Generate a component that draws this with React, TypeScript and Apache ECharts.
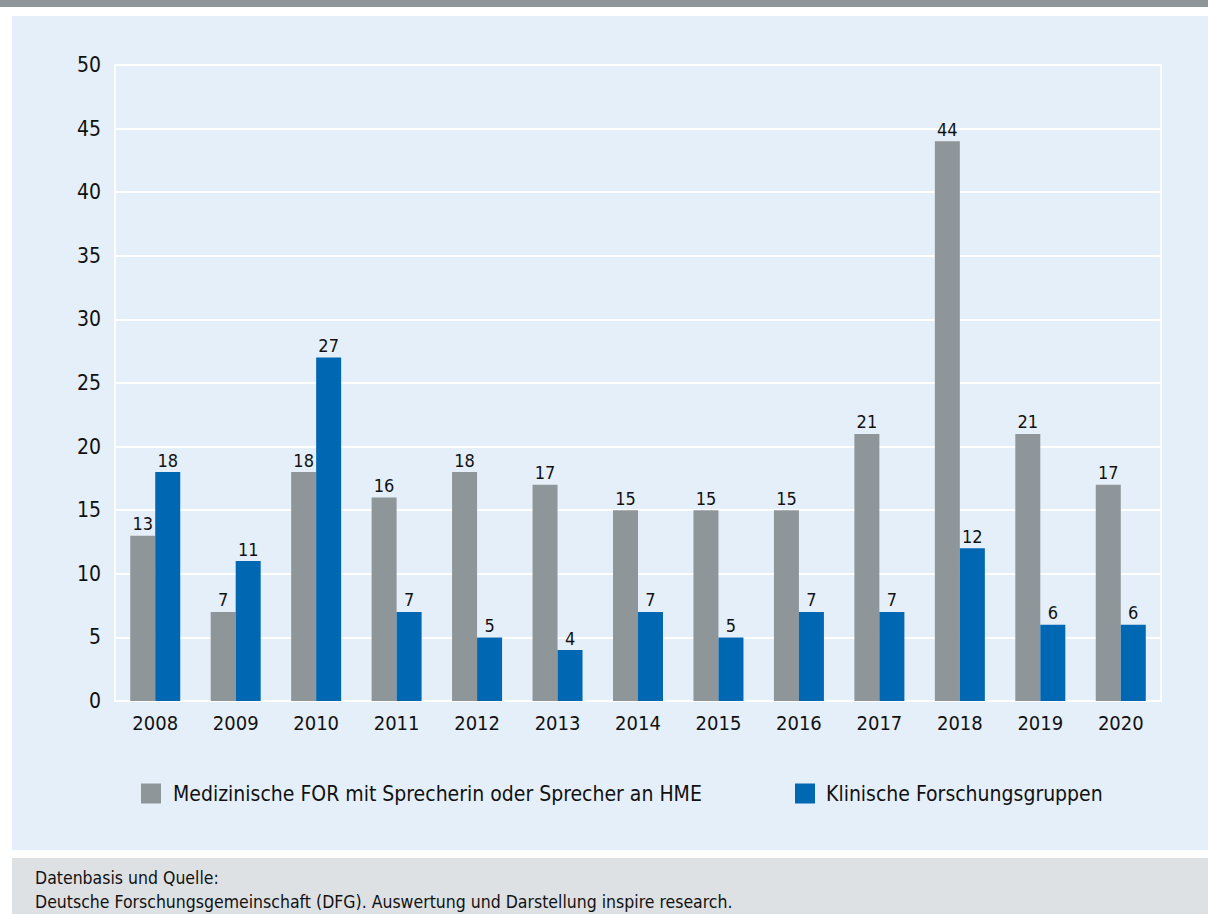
import React, { useEffect, useRef } from "react";
import * as echarts from "echarts";

const years = ["2008", "2009", "2010", "2011", "2012", "2013", "2014", "2015", "2016", "2017", "2018", "2019", "2020"];
const seriesNames = ["Medizinische FOR mit Sprecherin oder Sprecher an HME", "Klinische Forschungsgruppen"];
const medFor = [13, 7, 18, 16, 18, 17, 15, 15, 15, 21, 44, 21, 17];
const klinFg = [18, 11, 27, 7, 5, 4, 7, 5, 7, 7, 12, 6, 6];
const sourceTitle = "Datenbasis und Quelle:";
const sourceText = "Deutsche Forschungsgemeinschaft (DFG). Auswertung und Darstellung inspire research.";

const FONT = "'DejaVu Sans Condensed', 'Liberation Sans Narrow', sans-serif";
const GRAY = "#8e9699";
const BLUE = "#0067b2";

export default function App() {
  const ref = useRef<HTMLDivElement>(null);
  useEffect(() => {
    document.body.style.margin = "0";
    const chart = echarts.init(ref.current!, null, { renderer: "svg" });
    chart.setOption({
      animation: false,
      backgroundColor: "#ffffff",
      textStyle: { fontFamily: FONT },
      graphic: [
        { type: "rect", shape: { x: 0, y: 0, width: 1208, height: 7 }, style: { fill: GRAY }, z: -10 },
        { type: "rect", shape: { x: 12, y: 16, width: 1196, height: 834 }, style: { fill: "#e5eff9" }, z: -10 },
        { type: "rect", shape: { x: 12, y: 858, width: 1196, height: 60 }, style: { fill: "#dde1e4" }, z: -10 },
        { type: "text", x: 35, y: 869, style: { text: sourceTitle, fontFamily: FONT, fontSize: 17.5, fill: "#111" } },
        { type: "text", x: 35, y: 893, style: { text: sourceText, fontFamily: FONT, fontSize: 17.5, fill: "#111" } },
      ],
      grid: {
        left: 115,
        right: 47,
        top: 65,
        bottom: 213,
        show: true,
        borderColor: "#ffffff",
        borderWidth: 2,
        backgroundColor: "transparent",
      },
      legend: [
        {
          data: [seriesNames[0]],
          left: 136,
          top: 778,
          itemWidth: 20,
          itemHeight: 20,
          icon: "rect",
          textStyle: { fontFamily: FONT, fontSize: 21, color: "#111", padding: [0, 0, 0, 7] },
        },
        {
          data: [seriesNames[1]],
          left: 790,
          top: 778,
          itemWidth: 20,
          itemHeight: 20,
          icon: "rect",
          textStyle: { fontFamily: FONT, fontSize: 21, color: "#111", padding: [0, 0, 0, 6] },
        },
      ],
      xAxis: {
        type: "category",
        data: years,
        axisLine: { lineStyle: { color: "#ffffff", width: 2 } },
        axisTick: { show: false },
        axisLabel: { fontFamily: FONT, fontSize: 20, color: "#111", margin: 12 },
      },
      yAxis: {
        type: "value",
        min: 0,
        max: 50,
        interval: 5,
        axisLine: { show: true, lineStyle: { color: "#ffffff", width: 2 } },
        axisTick: { show: false },
        splitLine: { lineStyle: { color: "#ffffff", width: 2 } },
        axisLabel: { fontFamily: FONT, fontSize: 21, color: "#111", margin: 14 },
      },
      series: [
        {
          name: seriesNames[0],
          type: "bar",
          data: medFor,
          barWidth: 25,
          barGap: "0%",
          itemStyle: { color: GRAY },
          label: { show: true, position: "top", distance: 3, fontFamily: FONT, fontSize: 18, color: "#111" },
        },
        {
          name: seriesNames[1],
          type: "bar",
          data: klinFg,
          barWidth: 25,
          barGap: "0%",
          itemStyle: { color: BLUE },
          label: { show: true, position: "top", distance: 3, fontFamily: FONT, fontSize: 18, color: "#111" },
        },
      ],
    });
    return () => chart.dispose();
  }, []);
  return <div ref={ref} style={{ position: "absolute", left: 0, top: 0, width: 1208, height: 914 }} />;
}
